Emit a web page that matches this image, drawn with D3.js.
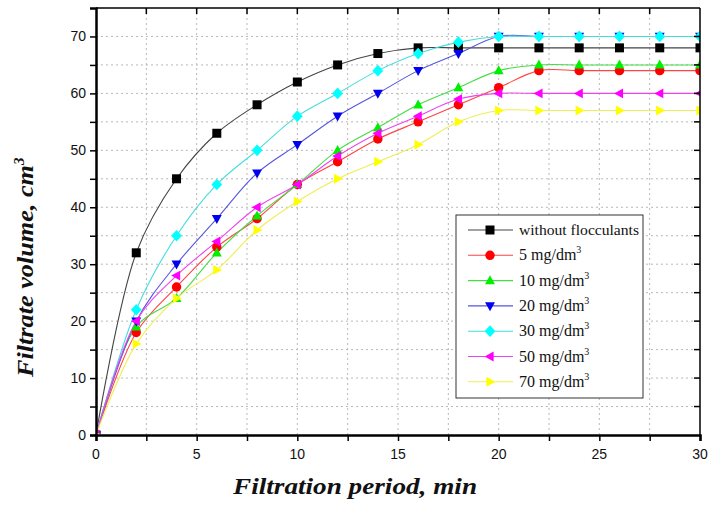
<!DOCTYPE html>
<html lang="en">
<head>
  <meta charset="UTF-8">
  <title>Filtrate volume vs filtration period</title>
  <script src="https://d3js.org/d3.v7.min.js"></script>
  <style>
    body { margin: 0; background: #fff; }
    svg { display: block; }
    .tick-label { font-family: "Liberation Sans", Arial, sans-serif; font-size: 14px; fill: #111; }
    .axis-title { font-family: "Liberation Serif", "Times New Roman", serif; font-weight: bold; font-style: italic; font-size: 23px; fill: #111; }
    .legend-text { font-family: "Liberation Serif", "Times New Roman", serif; fill: #111; }
  </style>
</head>
<body>
<svg width="709" height="506"></svg>
<script>
// filtration period, min
const times = [0, 2, 4, 6, 8, 10, 12, 14, 16, 18, 20, 22, 24, 26, 28, 30];

// filtrate volume, cm3
const withoutFloc = [0, 32, 45, 53, 58, 62, 65, 67, 68, 68, 68, 68, 68, 68, 68, 68];
const mg5  = [0, 18, 26, 33, 38, 44, 48, 52, 55, 58, 61, 64, 64, 64, 64, 64];
const mg10 = [0, 19, 24, 32, 38.5, 44, 50, 54, 58, 61, 64, 65, 65, 65, 65, 65];
const mg20 = [0, 20, 30, 38, 46, 51, 56, 60, 64, 67, 70, 70, 70, 70, 70, 70];
const mg30 = [0, 22, 35, 44, 50, 56, 60, 64, 67, 69, 70, 70, 70, 70, 70, 70];
const mg50 = [0, 20, 28, 34, 40, 44, 49, 53, 56, 59, 60, 60, 60, 60, 60, 60];
const mg70 = [0, 16, 24, 29, 36, 41, 45, 48, 51, 55, 57, 57, 57, 57, 57, 57];

const seriesNames = ["without flocculants", "5 mg/dm", "10 mg/dm", "20 mg/dm", "30 mg/dm", "50 mg/dm", "70 mg/dm"];
const seriesValues = [withoutFloc, mg5, mg10, mg20, mg30, mg50, mg70];
const markerColors = ["#000000", "#ff0000", "#00ee00", "#0000ee", "#00ffff", "#ff00ff", "#ffff00"];
const lineColors = ["#444444", "#ff4444", "#44dd44", "#5555dd", "#44dddd", "#ee44ee", "#eeee55"];
const markerShapes = ["square", "circle", "up", "down", "diamond", "left", "right"];

const xTicks = [0, 5, 10, 15, 20, 25, 30];
const yTicks = [0, 10, 20, 30, 40, 50, 60, 70];

const svg = d3.select("svg");
const margin = {top: 8, right: 9, bottom: 71, left: 96};
const width = 709 - margin.left - margin.right,
      height = 506 - margin.top - margin.bottom;

const x = d3.scaleLinear().domain([0, 30]).range([0, width]);
const y = d3.scaleLinear().domain([0, 75]).range([height, 0]);

const g = svg.append("g").attr("transform", `translate(${margin.left},${margin.top})`);

svg.append("defs").append("clipPath").attr("id", "plot-clip")
  .append("rect").attr("width", width).attr("height", height);

// grid
g.append("g").selectAll("line")
  .data(d3.range(2.5, 30, 2.5))
  .join("line")
  .attr("x1", d => x(d)).attr("x2", d => x(d))
  .attr("y1", 0).attr("y2", height)
  .attr("stroke", "#b8b8b8").attr("stroke-width", 1).attr("stroke-dasharray", "2,3");
g.append("g").selectAll("line")
  .data(d3.range(5, 75, 5))
  .join("line")
  .attr("x1", 0).attr("x2", width)
  .attr("y1", d => y(d)).attr("y2", d => y(d))
  .attr("stroke", "#b8b8b8").attr("stroke-width", 1).attr("stroke-dasharray", "2,3");

// curves and markers
const plot = g.append("g").attr("clip-path", "url(#plot-clip)");
const line = d3.line().x(d => x(d[0])).y(d => y(d[1])).curve(d3.curveCatmullRom.alpha(0.5));

function markerPath(shape, s) {
  switch (shape) {
    case "square": return `M${-s},${-s}H${s}V${s}H${-s}Z`;
    case "circle": return d3.symbol(d3.symbolCircle, Math.PI * s * s * 1.1)();
    case "up": return `M0,${-s * 1.2}L${s * 1.1},${s * 0.8}L${-s * 1.1},${s * 0.8}Z`;
    case "down": return `M0,${s * 1.2}L${s * 1.1},${-s * 0.8}L${-s * 1.1},${-s * 0.8}Z`;
    case "diamond": return `M0,${-s * 1.3}L${s * 1.2},0L0,${s * 1.3}L${-s * 1.2},0Z`;
    case "left": return `M${-s * 1.2},0L${s * 0.8},${-s * 1.1}L${s * 0.8},${s * 1.1}Z`;
    case "right": return `M${s * 1.2},0L${-s * 0.8},${-s * 1.1}L${-s * 0.8},${s * 1.1}Z`;
  }
}

seriesValues.forEach((vals, i) => {
  const pts = times.map((t, j) => [t, vals[j]]);
  plot.append("path")
    .attr("d", line(pts))
    .attr("fill", "none")
    .attr("stroke", lineColors[i])
    .attr("stroke-width", 1.1);
});
seriesValues.forEach((vals, i) => {
  plot.append("g").selectAll("path")
    .data(times.map((t, j) => [t, vals[j]]))
    .join("path")
    .attr("transform", d => `translate(${x(d[0])},${y(d[1])})`)
    .attr("d", markerPath(markerShapes[i], 4.5))
    .attr("fill", markerColors[i]);
});

// frame
g.append("line").attr("x1", 0).attr("x2", width).attr("y1", 0).attr("y2", 0).attr("stroke", "#000").attr("stroke-width", 1.5);
g.append("line").attr("x1", width).attr("x2", width).attr("y1", 0).attr("y2", height).attr("stroke", "#000").attr("stroke-width", 1.5);

// axes
const xAxis = g.append("g").attr("transform", `translate(0,${height})`)
  .call(d3.axisBottom(x).tickValues(d3.range(0, 30.1, 2.5)).tickSize(6).tickFormat(""));
xAxis.select(".domain").attr("stroke-width", 2.5);
xAxis.selectAll(".tick line").attr("stroke-width", 1.5);

const yAxis = g.append("g")
  .call(d3.axisLeft(y).tickValues(d3.range(0, 75, 5)).tickSize(6).tickFormat(""));
yAxis.select(".domain").attr("stroke-width", 2.5);
yAxis.selectAll(".tick line").attr("stroke-width", 1.5);

// mirrored inward ticks on top/right
g.append("g").selectAll("line").data(d3.range(2.5, 30, 2.5)).join("line")
  .attr("x1", d => x(d)).attr("x2", d => x(d)).attr("y1", 0).attr("y2", 6)
  .attr("stroke", "#000").attr("stroke-width", 1.5);
g.append("g").selectAll("line").data(d3.range(5, 75, 5)).join("line")
  .attr("x1", width).attr("x2", width - 6).attr("y1", d => y(d)).attr("y2", d => y(d))
  .attr("stroke", "#000").attr("stroke-width", 1.5);

// tick labels
g.append("g").selectAll("text").data(xTicks).join("text")
  .attr("class", "tick-label")
  .attr("x", d => x(d)).attr("y", height + 24)
  .attr("text-anchor", "middle")
  .text(d => d);
g.append("g").selectAll("text").data(yTicks).join("text")
  .attr("class", "tick-label")
  .attr("x", -10).attr("y", d => y(d) + 5)
  .attr("text-anchor", "end")
  .text(d => d);

// axis titles
svg.append("text")
  .attr("class", "axis-title")
  .attr("x", 233)
  .attr("y", 494)
  .attr("textLength", 244)
  .attr("lengthAdjust", "spacingAndGlyphs")
  .text("Filtration period, min");

const yt = svg.append("text")
  .attr("class", "axis-title")
  .attr("transform", "translate(33,377) rotate(-90)");
yt.append("tspan").attr("textLength", 212).attr("lengthAdjust", "spacingAndGlyphs").text("Filtrate volume, cm");
yt.append("tspan").attr("dy", -9).attr("font-size", 15).text("3");

// legend
const lg = svg.append("g").attr("transform", "translate(456,215)");
lg.append("rect").attr("width", 187).attr("height", 183)
  .attr("fill", "#fff").attr("stroke", "#333").attr("stroke-width", 1);
seriesNames.forEach((name, i) => {
  const row = lg.append("g").attr("transform", `translate(0,${15 + i * 25.3})`);
  row.append("line").attr("x1", 12).attr("x2", 57).attr("y1", 0).attr("y2", 0)
    .attr("stroke", lineColors[i]).attr("stroke-width", 1.1);
  row.append("path").attr("transform", "translate(34,0)")
    .attr("d", markerPath(markerShapes[i], 4.5)).attr("fill", markerColors[i]);
  const t = row.append("text").attr("class", "legend-text").attr("x", 63).attr("y", 5)
    .attr("font-size", i === 0 ? 14 : 16);
  if (i === 0) {
    t.attr("textLength", 120).attr("lengthAdjust", "spacingAndGlyphs").text(name);
  } else {
    t.append("tspan").text(name);
    t.append("tspan").attr("dy", -7).attr("font-size", 10).text("3");
  }
});
</script>
</body>
</html>
